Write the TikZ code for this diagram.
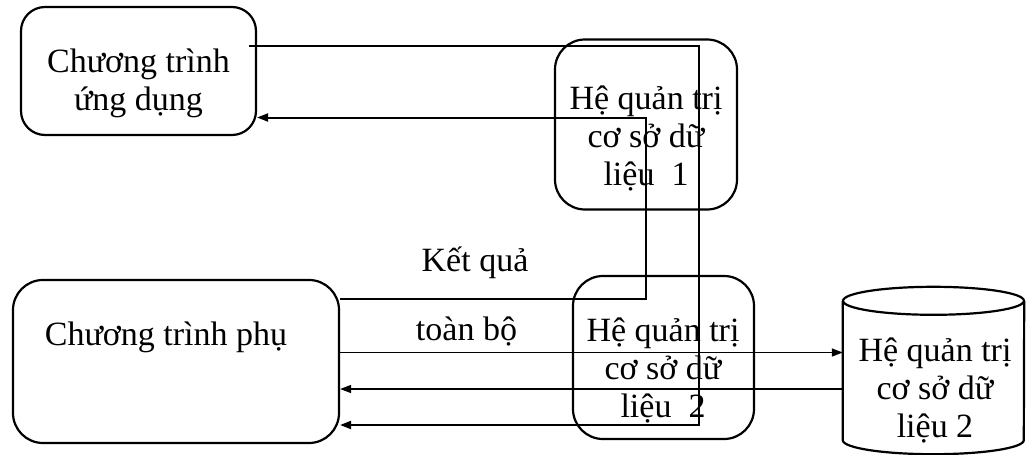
\documentclass[tikz,border=0pt]{standalone}
\usepackage{fontspec}
\setmainfont{Liberation Serif}
\usetikzlibrary{arrows.meta}
\newcommand\boxtextfont{\fontsize{34}{38}\selectfont\lineskiplimit=-100pt\lineskip=0pt\relax}
\tikzset{
  boxnode/.style={draw, line width=2.2pt, inner sep=0pt},
  txt/.style={inner sep=0pt, anchor=base, align=center, font=\boxtextfont},
  bodynode/.style={inner sep=0pt, draw=none},
  heavy/.style={line width=2pt},
  light/.style={line width=1.3pt},
  tip/.style={-{Triangle[length=11pt,width=8pt]}}
}
\begin{document}
\begin{tikzpicture}[x=1pt,y=-1pt]
\useasboundingbox (0,0) rectangle (1029,455);
% boxes
\node[boxnode, rounded corners=24pt, minimum width=235pt, minimum height=128pt] (A) at (138.5,71) {};
\node[boxnode, rounded corners=30pt, minimum width=182pt, minimum height=170pt] (B) at (646,124.5) {};
\node[boxnode, rounded corners=30pt, minimum width=326pt, minimum height=163pt] (C) at (176,361.5) {};
\node[boxnode, rounded corners=30pt, minimum width=181pt, minimum height=163pt] (D) at (663.5,357.5) {};
\node[bodynode, minimum width=181pt, minimum height=139pt] (E) at (933.5,370.5) {};
% cylinder
\draw[line width=2.2pt] (E.north west) -- (E.south west)
  arc[start angle=180, end angle=360, x radius=90.5pt, y radius=14pt] -- (E.north east);
\draw[line width=2.2pt] (E.north) ellipse[x radius=90.5pt, y radius=14pt];
% texts
\node[txt] (tA) at (138.5,110.5) {Chương trình\\ứng dụng};
\node[txt] (tB) at (646,185) {Hệ quản trị\\cơ sở dữ\\liệu\ \ 1};
\node[txt] (tC) at (166,345) {Chương trình phụ};
\node[txt] (tD) at (663,417) {Hệ quản trị\\cơ sở dữ\\liệu\ \ 2};
\node[txt] (tE) at (935,437) {Hệ quản trị\\cơ sở dữ\\liệu 2};
\node[txt] (kq) at (475,271.7) {Kết quả};
\node[txt] (tb) at (466.5,340) {toàn bộ};
% connectors
\coordinate (a1) at ([xshift=-8pt]A.east);
\draw[heavy, tip] (a1 |- 0,45.5) -- (699,45.5) -- (699,425) -- (C.east |- 0,425);
\draw[heavy, tip] (C.east |- 0,298.5) -- (645.5,298.5) -- (645.5,117.5) -- (A.east |- 0,117.5);
\draw[light, tip] (C.east |- 0,352.5) -- (E.west |- 0,352.5);
\draw[light, tip] (E.west |- 0,389) -- (C.east |- 0,389);
\end{tikzpicture}
\end{document}
